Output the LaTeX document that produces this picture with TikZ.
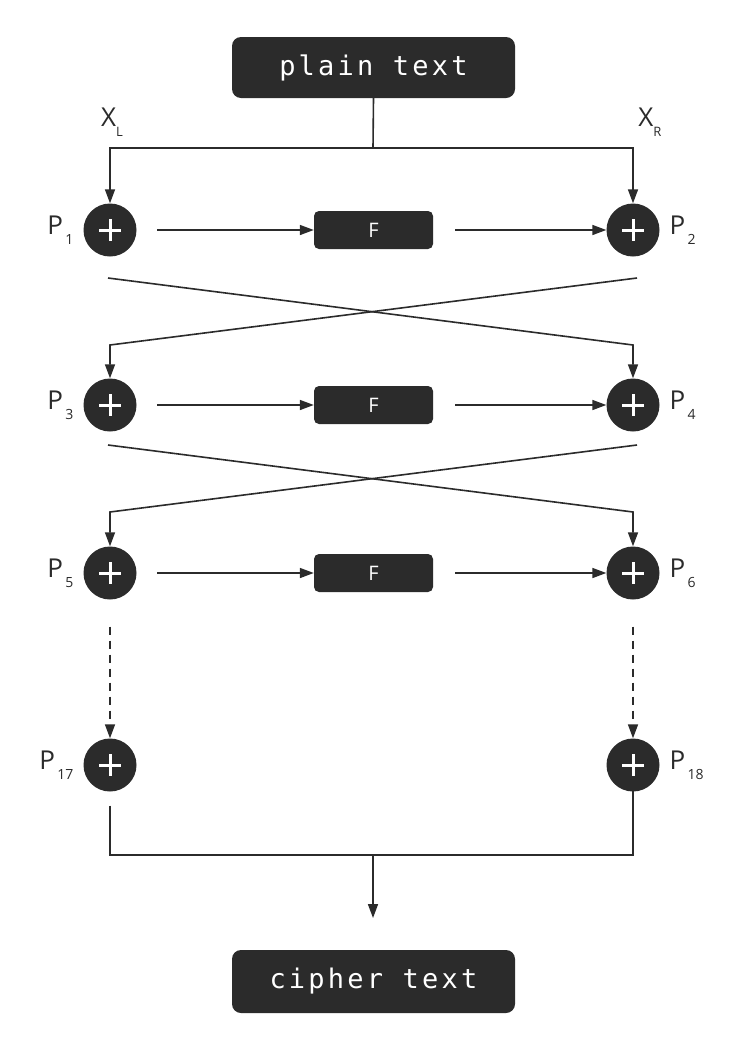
\documentclass[tikz,border=0pt]{standalone}
\usepackage{fontspec}
\setmainfont{Open Sans}
\newfontfamily\monof{DejaVu Sans Mono}
\usetikzlibrary{arrows.meta}
\definecolor{dk}{HTML}{2B2B2B}
\begin{document}
\begin{tikzpicture}[x=1pt,y=-1pt,
  box/.style={fill=dk,rounded corners=9pt,text=white,font=\monof\fontsize{27}{27}\selectfont},
  fbox/.style={fill=dk,rounded corners=5pt,minimum width=119pt,minimum height=38pt,text=white,font=\fontsize{20}{20}\selectfont},
  xo/.style={circle,fill=dk,minimum size=53pt,inner sep=0pt},
  lab/.style={font=\fontsize{26}{26}\selectfont,text=dk},
  ln/.style={draw=dk,line width=1.6pt},
  ar/.style={ln,-{Triangle[length=14pt,width=10pt]}},
  plus/.style={draw=white,line width=3pt}]
\useasboundingbox[fill=white] (0,0) rectangle (750,1050);
\node[box,minimum width=283pt,minimum height=61pt] (pt) at (373.5,67.5) {\addfontfeature{LetterSpace=12}plain text};
\node[box,minimum width=283pt,minimum height=63pt] (ct) at (373.5,981.5) {\addfontfeature{LetterSpace=12}cipher text};
\node[lab] (xl) at (112,122) {X\raisebox{-10pt}{\fontsize{13}{13}\selectfont L}};
\node[lab] (xr) at (650,122) {X\raisebox{-10pt}{\fontsize{13}{13}\selectfont R}};
\foreach \n/\y/\a/\b in {1/230/1/2,2/405/3/4,3/573/5/6,4/765/17/18}{
  \node[xo] (L\n) at (110,\y) {};
  \node[xo] (R\n) at (633,\y) {};
  \draw[plus] (L\n.center)++(-11,0) -- ++(22,0) (L\n.center)++(0,-11) -- ++(0,22);
  \draw[plus] (R\n.center)++(-11,0) -- ++(22,0) (R\n.center)++(0,-11) -- ++(0,22);
  \node[lab,anchor=east] (pl\n) at (77,\y) {P\raisebox{-10pt}{\fontsize{14}{14}\selectfont\,\a}};
  \node[lab,anchor=west] (pr\n) at (666,\y) {P\raisebox{-10pt}{\fontsize{14}{14}\selectfont\,\b}};
}
\foreach \n/\y in {1/230,2/405,3/573}{
  \node[fbox] (F\n) at (373.5,\y) {F};
  \draw[ar] (157,\y) -- (F\n.west);
  \draw[ar] (455,\y) -- (R\n.west);
}
\coordinate (t0) at (373,148);
\draw[ln] (pt.south) -- (t0);
\draw[ar] (t0) -| (L1.north);
\draw[ar] (t0) -| (R1.north);
\foreach \a/\b/\y in {1/2/278,2/3/445}{
  \coordinate (c1\a) at (108,\y); \coordinate (c2\a) at (633,\y+67);
  \coordinate (c3\a) at (637,\y); \coordinate (c4\a) at (110,\y+67);
  \draw[ar] (c1\a) -- (c2\a) -- (R\b.north);
  \draw[ar] (c3\a) -- (c4\a) -- (L\b.north);
}
\draw[ar,dashed,dash pattern=on 8pt off 6pt] (L3.south)++(0,27) -- (L4.north);
\draw[ar,dashed,dash pattern=on 8pt off 6pt] (R3.south)++(0,27) -- (R4.north);
\coordinate (b0) at (373,855);
\draw[ln] (L4.south)++(0,14) |- (b0) -| ([yshift=14pt]R4.south);
\draw[ar] (b0) -- ++(0,63) coordinate (b1);
\end{tikzpicture}
\end{document}
